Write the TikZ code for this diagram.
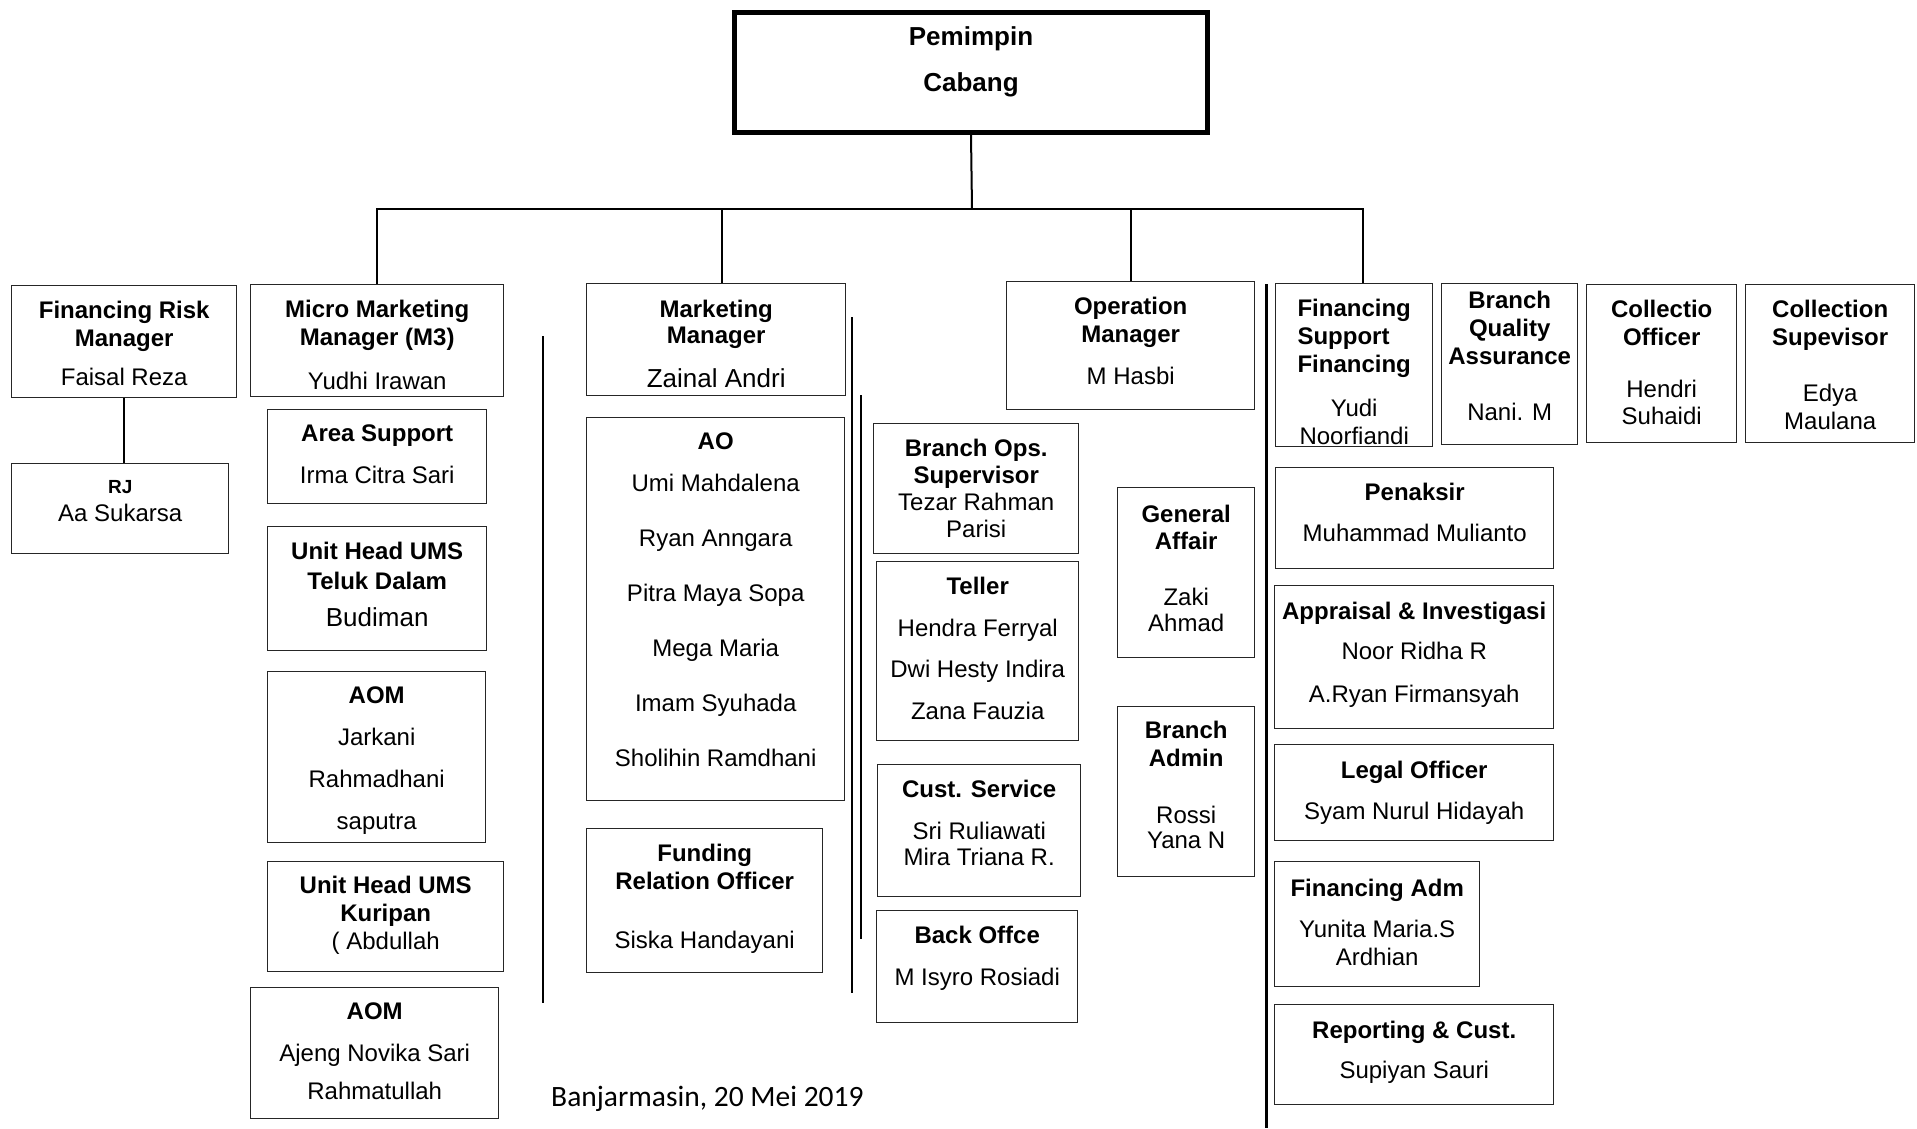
\documentclass[tikz,border=0pt]{standalone}
\usepackage{fontspec}
\setmainfont{Liberation Sans}
\newfontfamily\datefont{Carlito}
\usetikzlibrary{positioning}
\tikzset{
    org-box/.style = {draw=black!85, line width=1.4pt, rectangle, inner sep=0pt, anchor=north west},
    head-box/.style = {draw=black, line width=5pt, rectangle, inner sep=0pt, anchor=north west},
    org-text/.style = {align=center, inner sep=0pt, font=\fontsize{24}{28}\selectfont},
    org-line/.style = {line width=2pt},
}

\begin{document}
\begin{tikzpicture}[x=1pt, y=-1pt]
\useasboundingbox (0,0) rectangle (1917,1128);

\node [head-box, minimum width=473pt, minimum height=120pt] (pc) at (732,10) {};
\node [org-text, font=\fontsize{26}{28}\selectfont\bfseries, below=16pt] (pc-t) at (pc.north) {Pemimpin\\[18pt]Cabang};

\node [org-box, minimum width=225pt, minimum height=112pt] (frm) at (11,285) {};
\node [org-text, below=16pt] (frm-t) at (frm.north) {\textbf{Financing Risk}\\\textbf{Manager}\\[11pt]Faisal Reza};
\node [org-box, minimum width=217pt, minimum height=90pt] (rj) at (11,463) {};
\node [org-text, below=17pt] (rj-t) at (rj.north) {{\fontsize{19}{28}\selectfont\bfseries RJ}\\Aa Sukarsa};

\node [org-box, minimum width=253pt, minimum height=112pt] (mmm) at (250,284) {};
\node [org-text, below=16pt] (mmm-t) at (mmm.north) {\textbf{Micro Marketing}\\\textbf{Manager (M3)}\\[16pt]Yudhi Irawan};
\node [org-box, minimum width=219pt, minimum height=94pt] (as) at (267,409) {};
\node [org-text, below=16pt] (as-t) at (as.north) {\textbf{Area Support}\\[14pt]Irma Citra Sari};
\node [org-box, minimum width=219pt, minimum height=124pt] (uhtd) at (267,526) {};
\node [org-text, below=16pt] (uhtd-t) at (uhtd.north) {\textbf{Unit Head UMS}\\[2pt]\textbf{Teluk Dalam}\\[9pt]{\fontsize{26}{28}\selectfont Budiman}};
\node [org-box, minimum width=218pt, minimum height=171pt] (aom1) at (267,671) {};
\node [org-text, below=16pt] (aom1-t) at (aom1.north) {\textbf{AOM}\\[14pt]Jarkani\\[14pt]Rahmadhani\\[14pt]saputra};
\node [org-box, minimum width=236pt, minimum height=110pt] (kur) at (267,861) {};
\node [org-text, below=15pt] (kur-t) at (kur.north) {\textbf{Unit Head UMS}\\\textbf{Kuripan}\\( Abdullah};
\node [org-box, minimum width=248pt, minimum height=131pt] (aom2) at (250,987) {};
\node [org-text, below=16pt] (aom2-t) at (aom2.north) {\textbf{AOM}\\[14pt]Ajeng Novika Sari\\[10pt]Rahmatullah};

\node [org-box, minimum width=259pt, minimum height=112pt] (mm) at (586,283) {};
\node [org-text, below=17pt] (mm-t) at (mm.north) {\textbf{Marketing}\\[-2pt]\textbf{Manager}\\[16pt]{\fontsize{26}{28}\selectfont Zainal Andri}};
\node [org-box, minimum width=258pt, minimum height=383pt] (ao) at (586,417) {};
\node [org-text, below=16pt] (ao-t) at (ao.north) {\textbf{AO}\\[14pt]Umi Mahdalena\\[27pt]Ryan Anngara\\[27pt]Pitra Maya Sopa\\[27pt]Mega Maria\\[27pt]Imam Syuhada\\[27pt]Sholihin Ramdhani};
\node [org-box, minimum width=236pt, minimum height=144pt] (fro) at (586,828) {};
\node [org-text, below=16pt] (fro-t) at (fro.north) {\textbf{Funding}\\\textbf{Relation Officer}\\[31pt]Siska Handayani};

\node [org-box, minimum width=248pt, minimum height=128pt] (om) at (1006,281) {};
\node [org-text, below=16pt] (om-t) at (om.north) {\textbf{Operation}\\\textbf{Manager}\\[14pt]M Hasbi};
\node [org-box, minimum width=205pt, minimum height=130pt] (bos) at (873,423) {};
\node [org-text, below=16pt] (bos-t) at (bos.north) {\textbf{Branch Ops.}\\[-1pt]\textbf{Supervisor}\\[-1pt]Tezar Rahman\\[-1pt]Parisi};
\node [org-box, minimum width=202pt, minimum height=179pt] (tel) at (876,561) {};
\node [org-text, below=16pt] (tel-t) at (tel.north) {\textbf{Teller}\\[14pt]Hendra Ferryal\\[13pt]Dwi Hesty Indira\\[14pt]Zana Fauzia};
\node [org-box, minimum width=203pt, minimum height=132pt] (cs) at (877,764) {};
\node [org-text, below=15.5pt] (cs-t) at (cs.north) {\textbf{Cust. Service}\\[14.5pt]Sri Ruliawati\\[-2pt]Mira Triana R.};
\node [org-box, minimum width=201pt, minimum height=112pt] (bo) at (876,910) {};
\node [org-text, below=16pt] (bo-t) at (bo.north) {\textbf{Back Offce}\\[14pt]M Isyro Rosiadi};
\node [org-box, minimum width=137pt, minimum height=170pt] (ga) at (1117,487) {};
\node [org-text, below=17.5pt] (ga-t) at (ga.north) {\textbf{General}\\[-1pt]\textbf{Affair}\\[28pt]Zaki\\[-2pt]Ahmad};
\node [org-box, minimum width=137pt, minimum height=170pt] (ba) at (1117,706) {};
\node [org-text, below=15pt] (ba-t) at (ba.north) {\textbf{Branch}\\\textbf{Admin}\\[29pt]Rossi\\[-3pt]Yana N};

\node [org-box, minimum width=157pt, minimum height=163pt] (fsf) at (1275,283) {};
\node [org-text, below=14pt] (fsf-t) at (fsf.north) {\begin{tabular}[b]{@{}l@{}}\bfseries Financing\\\bfseries Support\\\bfseries Financing\end{tabular}\\[15.5pt]Yudi\\Noorfiandi};
\node [org-box, minimum width=136pt, minimum height=161pt] (bqa) at (1441,283) {};
\node [org-text, below=8pt] (bqa-t) at (bqa.north) {\textbf{Branch}\\\textbf{Quality}\\\textbf{Assurance}\\[28pt]Nani. M};
\node [org-box, minimum width=150pt, minimum height=158pt] (co) at (1586,284) {};
\node [org-text, below=16pt] (co-t) at (co.north) {\textbf{Collectio}\\\textbf{Officer}\\[24pt]Hendri\\[-1pt]Suhaidi};
\node [org-box, minimum width=169pt, minimum height=158pt] (csu) at (1745,284) {};
\node [org-text, below=16pt] (csu-t) at (csu.north) {\textbf{Collection}\\\textbf{Supevisor}\\[28pt]Edya\\Maulana};
\node [org-box, minimum width=278pt, minimum height=101pt] (pen) at (1275,467) {};
\node [org-text, below=16pt] (pen-t) at (pen.north) {\textbf{Penaksir}\\[13pt]Muhammad Mulianto};
\node [org-box, minimum width=279pt, minimum height=143pt] (app) at (1274,585) {};
\node [org-text, below=16.5pt] (app-t) at (app.north) {\textbf{Appraisal \& Investigasi}\\[12.5pt]Noor Ridha R\\[14.5pt]A.Ryan Firmansyah};
\node [org-box, minimum width=279pt, minimum height=96pt] (leg) at (1274,744) {};
\node [org-text, below=16.5pt] (leg-t) at (leg.north) {\textbf{Legal Officer}\\[13pt]Syam Nurul Hidayah};
\node [org-box, minimum width=205pt, minimum height=125pt] (fad) at (1274,861) {};
\node [org-text, below=17.5pt] (fad-t) at (fad.north) {\textbf{Financing Adm}\\[13pt]Yunita Maria.S\\Ardhian};
\node [org-box, minimum width=279pt, minimum height=100pt] (rep) at (1274,1004) {};
\node [org-text, below=16.5pt] (rep-t) at (rep.north) {\textbf{Reporting \& Cust.}\\[12.5pt]Supiyan Sauri};

\coordinate (bus) at (972,209);
\coordinate (mm-in) at (722,283);
\coordinate (fsf-in) at (1363,283);
\draw [org-line] (pc.south) -- (bus);
\draw [org-line] (mmm.north) |- (fsf-in |- bus) -- (fsf-in);
\draw [org-line] (mm-in) -- (mm-in |- bus);
\draw [org-line] (om.north) -- (om.north |- bus);
\draw [org-line] (frm.south) -- (frm.south |- rj.north);

\draw [org-line] (543,336) -- (543,1003);
\draw [org-line] (852,317) -- (852,993);
\draw [org-line] (861,395) -- (861,939);
\draw [org-line, line width=3pt] (1266,284) -- (1266,1128);

\node [font=\datefont\fontsize{29.5}{34}\selectfont, anchor=base west, inner sep=0pt] (date) at (551,1106) {Banjarmasin, 20 Mei 2019};
\end{tikzpicture}
\end{document}
